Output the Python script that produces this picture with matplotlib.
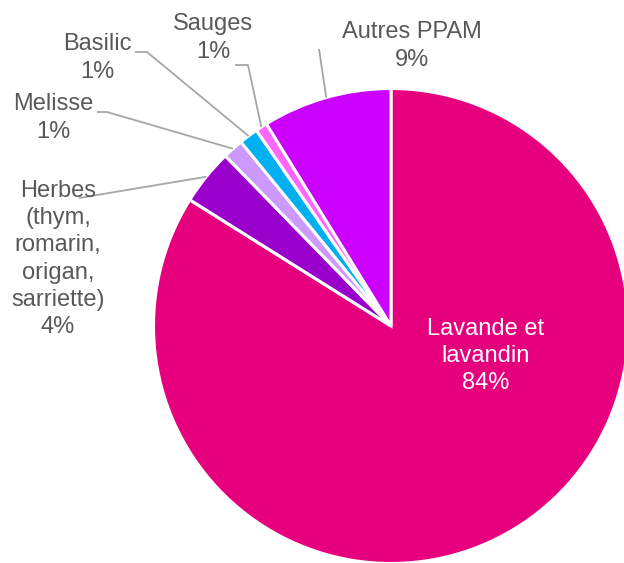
import numpy as np
import matplotlib
matplotlib.use("Agg")
import matplotlib.pyplot as plt

W, H = 624, 563

categories = ["Lavande et\nlavandin", "Herbes\n(thym,\nromarin,\norigan,\nsarriette)",
              "Melisse", "Basilic", "Sauges", "Autres PPAM"]
values = [84.0, 3.8, 1.4, 1.3, 0.8, 8.8]
pct_labels = ["84%", "4%", "1%", "1%", "1%", "9%"]
colors = ["#E6007E", "#9900CC", "#CC99FF", "#00B0F0", "#FF66FF", "#CC00FF"]

plt.rcParams['font.family'] = ['Liberation Sans', 'DejaVu Sans']

fig = plt.figure(figsize=(W / 100, H / 100), dpi=100)
ax = fig.add_axes([0, 0, 1, 1])

def P(x, y):
    return (x, H - y)

cx, cy = P(391, 326)
R = 237.5
wedges, _ = ax.pie(values, colors=colors, startangle=90, counterclock=False,
                   radius=R, center=(cx, cy),
                   wedgeprops=dict(edgecolor="white", linewidth=2.2))

ax.set_xlim(0, W)
ax.set_ylim(0, H)
ax.set_aspect("equal")
ax.axis("off")

fs = 17
gray = "#595959"
lc = "#A6A6A6"

# label block centers (pixel coords) and leader-line label-side points
label_pos = {
    0: (486, 356),
    1: (58, 259),
    2: (53, 118),
    3: (97, 58),
    4: (213, 38),
    5: (412, 46),
}
leader_start = {
    1: [(79, 198)],
    2: [(97, 112), (107, 112)],
    3: [(135, 52), (147, 52)],
    4: [(235, 65), (248, 65)],
    5: [(319, 49)],
}

for i, w in enumerate(wedges):
    x, y = P(*label_pos[i])
    txt = categories[i] + "\n" + pct_labels[i]
    ax.text(x, y, txt, ha="center", va="center", fontsize=fs,
            color="white" if i == 0 else gray, linespacing=1.3)
    if i in leader_start:
        mid = np.deg2rad((w.theta1 + w.theta2) / 2)
        ex, ey = cx + R * np.cos(mid), cy + R * np.sin(mid)
        pts = [P(*p) for p in leader_start[i]] + [(ex, ey)]
        xs, ys = zip(*pts)
        ax.plot(xs, ys, color=lc, lw=1.3, solid_capstyle="butt")

fig.savefig("out.png", dpi=100)
